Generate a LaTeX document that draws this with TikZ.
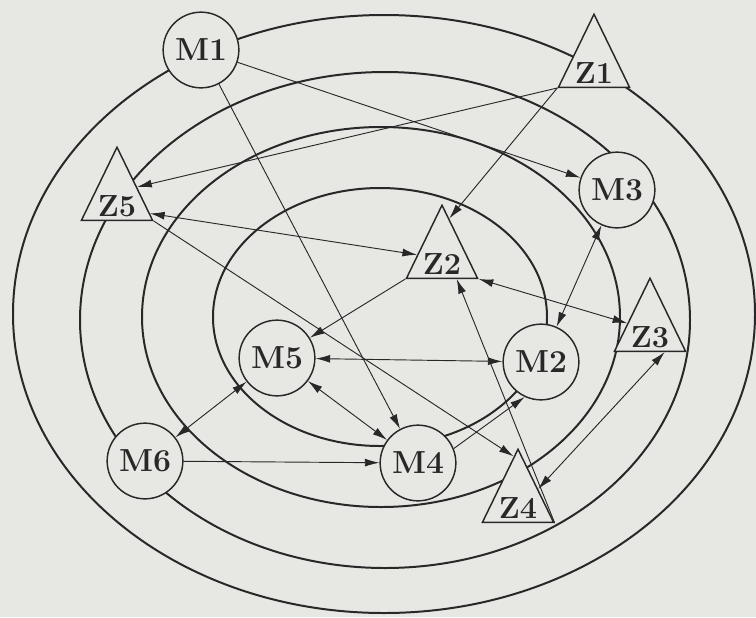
\documentclass[tikz,border=0pt]{standalone}
\usepackage{fontspec}
\usepackage{tikz}
\usetikzlibrary{shapes.geometric, arrows.meta, calc}

\definecolor{paper}{RGB}{231,231,228}
\definecolor{ink}{RGB}{40,40,40}

\tikzset{
    member/.style={circle, draw=ink, line width=1.1pt, fill=paper, minimum size=57pt,
        inner sep=0pt, text=ink, font=\fontsize{24}{26}\selectfont\bfseries},
    zgroup/.style={isosceles triangle, isosceles triangle stretches, shape border rotate=90,
        draw=ink, line width=1.1pt, fill=paper, minimum width=53.5pt, minimum height=55pt,
        inner sep=0pt, anchor=south, text=ink, font=\fontsize{23}{25}\selectfont\bfseries},
    ring/.style={draw=ink, line width=1.5pt},
    link/.style={draw=ink, line width=0.7pt, -{Latex[length=11pt, width=6pt]}},
    mutual/.style={link, {Latex[length=11pt, width=6pt]}-{Latex[length=11pt, width=6pt]}}
}

\begin{document}
\begin{tikzpicture}[x=0.02646cm, y=-0.02646cm]
    \path[use as bounding box, fill=paper] (0,0) rectangle (756,617);

    \draw[ring] (384,314) ellipse [x radius=371, y radius=299];
    \draw[ring] (385,320) ellipse [x radius=305, y radius=248];
    \draw[ring] (381,317) ellipse [x radius=239, y radius=190];
    \draw[ring] (380,317) ellipse [x radius=167, y radius=129];

    \node[member] (M1) at (201,50) {M1};
    \node[member] (M2) at (541,362) {M2};
    \node[member] (M3) at (617,190) {M3};
    \node[member] (M4) at (418,463) {M4};
    \node[member] (M5) at (277,358) {M5};
    \node[member] (M6) at (145,461) {M6};

    \node[zgroup] (Z1) at (594,88) {Z1};
    \node[zgroup] (Z2) at (442,279) {Z2};
    \node[zgroup] (Z3) at (650,352) {Z3};
    \node[zgroup] (Z4) at (518,523) {Z4};
    \node[zgroup] (Z5) at (117,221) {Z5};

    \draw[link] (M1) -- (M3);
    \draw[link] (M1) -- (M4);
    \draw[link] (Z1.left corner) -- ($(Z5.apex)!0.55!(Z5.right corner)$);
    \draw[link] (Z1.left corner) -- ($(Z2.apex)!0.2!(Z2.right corner)$);
    \draw[mutual] ($(Z5.apex)!0.9!(Z5.right corner)$) -- ($(Z2.apex)!0.68!(Z2.left corner)$);
    \draw[link] (Z5.right corner) -- ($(Z4.apex)!0.12!(Z4.left corner)$);
    \draw[link] (Z2.left corner) -- (M5);
    \draw[mutual] (M5) -- (M2);
    \draw[mutual] (M5) -- (M4);
    \draw[mutual] (M6) -- (M5);
    \draw[link] (M6) -- (M4);
    \draw[link] (M4.22) -- (M2.245);
    \draw[link] (Z4.right corner) -- ($(Z2.left corner)!0.7!(Z2.right corner)$);
    \draw[mutual] (Z2.right corner) -- ($(Z3.apex)!0.62!(Z3.left corner)$);
    \draw[mutual] (M3) -- (M2);
    \draw[mutual] ($(Z3.left corner)!0.7!(Z3.right corner)$) -- ($(Z4.apex)!0.55!(Z4.right corner)$);
\end{tikzpicture}
\end{document}
